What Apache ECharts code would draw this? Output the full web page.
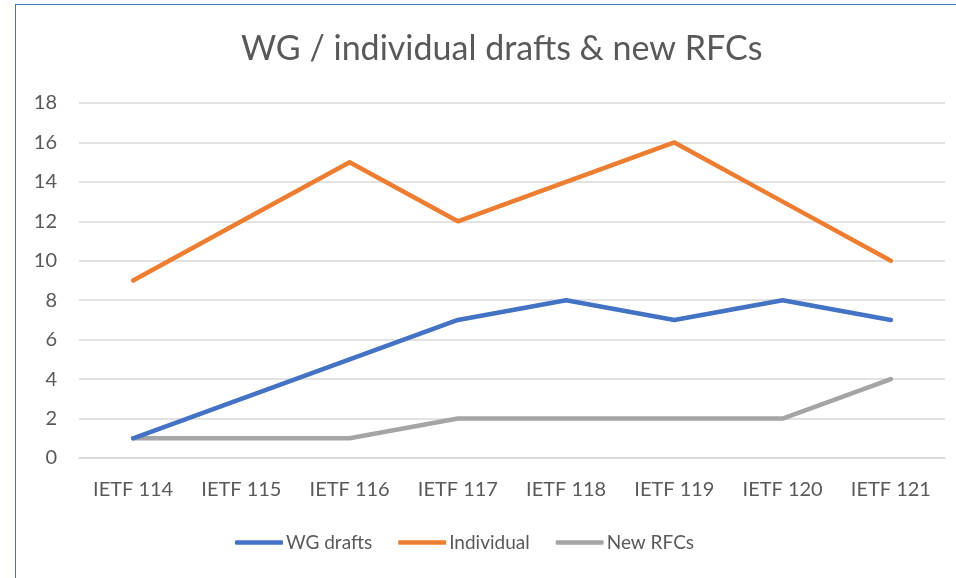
<!DOCTYPE html>
<html><head><meta charset="utf-8">
<script src="https://cdn.jsdelivr.net/npm/echarts@6/dist/echarts.min.js"></script>
<style>html,body{margin:0;padding:0;background:#fff}#c{width:956px;height:578px}
#frame{position:absolute;left:15px;top:4px;width:960px;height:600px;border-left:1.5px solid #4472C4;border-top:1.5px solid #4472C4;pointer-events:none}</style>
</head><body><div id="c"></div><div id="frame"></div>
<script>
const categories = ['IETF 114','IETF 115','IETF 116','IETF 117','IETF 118','IETF 119','IETF 120','IETF 121'];
const wgDrafts = [1,3,5,7,8,7,8,7];
const individual = [9,12,15,12,14,16,13,10];
const newRFCs = [1,1,1,2,2,2,2,4];
const yTicks = [0,2,4,6,8,10,12,14,16,18];
const font = 'Lato, "Open Sans", sans-serif';
const chart = echarts.init(document.getElementById('c'));
function s(name, data, color){
  return {name, type:'line', data, symbol:'none', lineStyle:{width:4.5, color, cap:'round', join:'round'}, itemStyle:{color}};
}
chart.setOption({
  animation:false,
  title:{text:'WG / individual drafts & new RFCs', left:236, top:27, textStyle:{fontFamily:font, fontSize:34, fontWeight:'normal', color:'#595959'}},
  grid:{left:79, right:11, top:103, bottom:120, containLabel:false},
  xAxis:{type:'category', data:categories, boundaryGap:true,
    axisLine:{show:true, lineStyle:{color:'#D9D9D9', width:1.5}}, axisTick:{show:false},
    axisLabel:{fontFamily:font, fontSize:20, color:'#595959', margin:22}},
  yAxis:{type:'value', min:yTicks[0], max:yTicks[yTicks.length-1], interval:2,
    axisLine:{show:false}, axisTick:{show:false},
    splitLine:{lineStyle:{color:'#D9D9D9', width:1.5}},
    axisLabel:{fontFamily:font, fontSize:20, color:'#595959', margin:22}},
  legend:{bottom:21, left:230, itemWidth:48, itemHeight:4.5, itemGap:26,
    icon:'roundRect',
    textStyle:{fontFamily:font, fontSize:19, color:'#595959', padding:[0,0,0,-2]},
    data:['WG drafts','Individual','New RFCs']},
  series:[s('New RFCs', newRFCs, '#A5A5A5'), s('Individual', individual, '#ED7D31'), s('WG drafts', wgDrafts, '#4472C4')]
});
</script></body></html>
